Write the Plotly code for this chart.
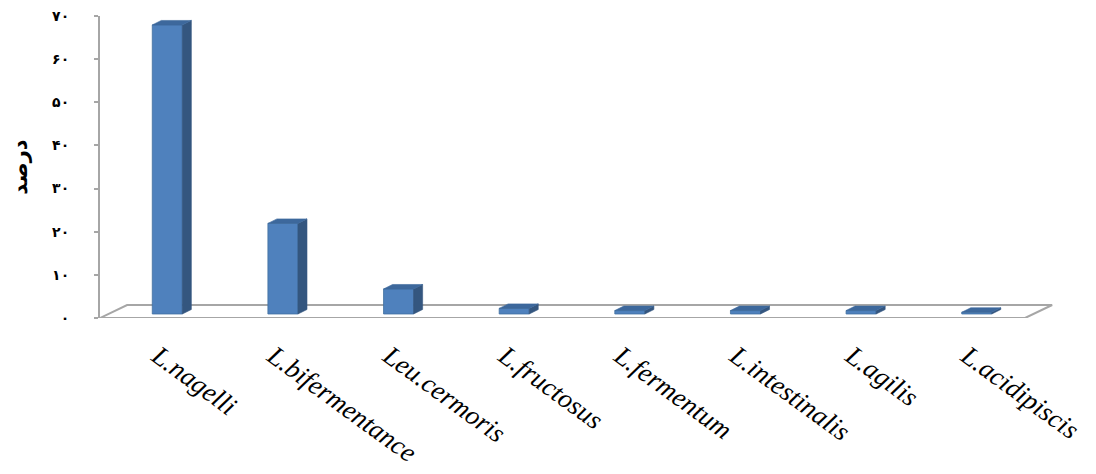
import plotly.graph_objects as go

categories = ["L.nagelli", "L.bifermentance", "Leu.cermoris", "L.fructosus",
              "L.fermentum", "L.intestinalis", "L.agilis", "L.acidipiscis"]
percent = [67.0, 21.0, 5.8, 1.3, 0.8, 0.8, 0.8, 0.4]
y_ticks = [0, 10, 20, 30, 40, 50, 60, 70]
y_tick_labels = ["۰", "۱۰", "۲۰", "۳۰", "۴۰", "۵۰", "۶۰", "۷۰"]
y_title = "درصد"

# pseudo-3D style constants (in axis units)
BAR_W = 0.26
SHIFT_X = 0.082
BASE = 0.93
DX = 0.078
DY = 1.04
FLOOR_DX = 0.234
FLOOR_DY = 3.01

FRONT = "#4F81BD"
SIDE = "#34567F"
TOP = "#3D689C"
GRAY = "#A6A6A6"

n = len(categories)
x_pos = [i + SHIFT_X for i in range(n)]

fig = go.Figure()

fig.add_trace(go.Bar(
    x=x_pos, y=percent, base=BASE, width=BAR_W,
    marker=dict(color=FRONT, line=dict(color="#41709F", width=0.8)),
    hoverinfo="skip", showlegend=False,
))

for xc, v in zip(x_pos, percent):
    xr = xc + BAR_W / 2
    xl = xc - BAR_W / 2
    top = BASE + v
    fig.add_trace(go.Scatter(
        x=[xr, xr + DX, xr + DX, xr, xr],
        y=[BASE, BASE + DY, top + DY, top, BASE],
        mode="lines", fill="toself", fillcolor=SIDE,
        line=dict(color=SIDE, width=0.6), hoverinfo="skip", showlegend=False,
    ))
    fig.add_trace(go.Scatter(
        x=[xl, xr, xr + DX, xl + DX, xl],
        y=[top, top, top + DY, top + DY, top],
        mode="lines", fill="toself", fillcolor=TOP,
        line=dict(color=TOP, width=0.6), hoverinfo="skip", showlegend=False,
    ))

x0, x1 = -0.5, n - 0.5
fig.add_shape(
    type="path", xref="x", yref="y", layer="below",
    path=(f"M {x0},0 L {x1},0 L {x1 + FLOOR_DX},{FLOOR_DY} "
          f"L {x0 + FLOOR_DX},{FLOOR_DY} Z"),
    line=dict(color=GRAY, width=2), fillcolor="white",
)

fig.update_layout(
    width=1088, height=466,
    margin=dict(l=92, r=42, t=8, b=156),
    paper_bgcolor="white", plot_bgcolor="white",
    showlegend=False,
    xaxis=dict(
        range=[x0, x1 + 0.25], tickmode="array",
        tickvals=list(range(n)), ticktext=categories,
        tickangle=36, ticks="", showgrid=False, zeroline=False, showline=False,
        tickfont=dict(family="Liberation Serif", size=27, style="italic", color="black"),
        ticklabelstandoff=16, automargin=False, ticklabeloverflow="allow",
    ),
    yaxis=dict(
        range=[0, 70], tickmode="array", tickvals=y_ticks, ticktext=y_tick_labels,
        showgrid=False, zeroline=False, showline=True, linecolor=GRAY, linewidth=2,
        ticks="outside", ticklen=4, tickcolor=GRAY, tickwidth=1.5,
        tickfont=dict(family="DejaVu Sans", size=14, weight="bold", color="black"),
        ticklabelstandoff=22, automargin=False, ticklabeloverflow="allow",
        title=dict(text=y_title, standoff=26,
                   font=dict(family="DejaVu Sans", size=21, weight="bold", color="black")),
    ),
)

fig.write_html("out.html")
